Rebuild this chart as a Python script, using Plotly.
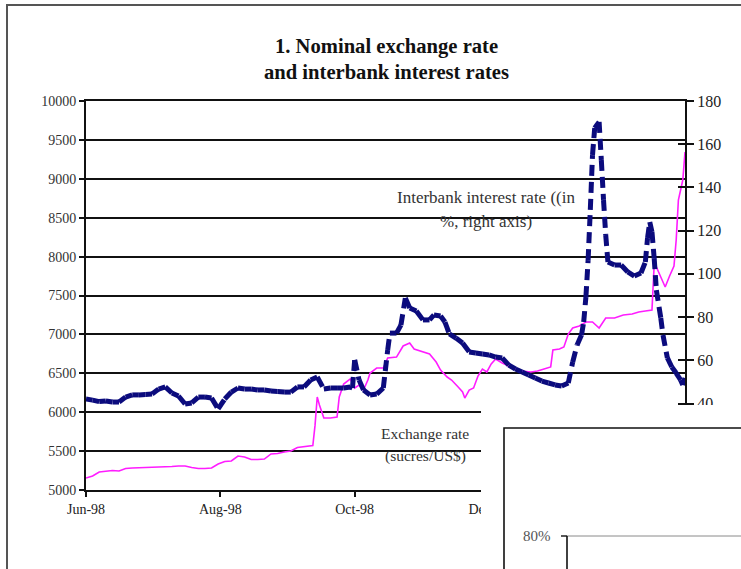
import plotly.graph_objects as go
import pandas as pd

# ---------------- data ----------------
title_lines = ["1. Nominal exchange rate", "and interbank interest rates"]
x_tick_dates = ["1998-06-01", "1998-08-01", "1998-10-01", "1998-12-01", "1999-02-01"]
x_tick_text = ["Jun-98", "Aug-98", "Oct-98", "Dec-98", "Feb-99"]
start_date = "1998-06-01"
end_date = "1999-02-28"

# Interbank interest rate (%, right axis); days counted from 1 June 1998
ib_day = [0, 3, 6, 9, 12, 15, 18, 21, 24, 27, 30, 33, 36, 39, 42, 45, 48, 51, 54, 57,
          60, 63, 66, 69, 72, 75, 78, 81, 84, 87, 90, 93, 96, 99, 102, 105, 108, 111,
          114, 117, 120, 121, 122, 124, 126, 129, 132, 135, 137, 138, 141, 143, 145,
          147, 150, 153, 156, 158, 161, 163, 165, 168, 171, 174, 177, 180, 183, 186,
          189, 192, 195, 198, 201, 204, 207, 210, 213, 216, 219, 221, 223, 225, 226,
          227, 228, 229, 230, 231, 233, 234, 235, 236, 237, 240, 243, 246, 249, 252,
          254, 255, 256, 257, 258, 259, 261, 262, 264, 266, 268, 270, 271, 272]
ib_rate = [42.1, 41.6, 40.9, 41.2, 40.7, 40.7, 43.0, 44.0, 44.0, 44.2, 44.4, 46.7, 47.7,
           44.9, 43.5, 39.8, 40.3, 43.0, 43.0, 42.6, 37.5, 42.1, 45.3, 47.2, 46.7, 46.7,
           46.3, 46.3, 45.8, 45.6, 45.3, 45.3, 47.7, 47.7, 50.9, 52.3, 46.7, 47.2, 47.2,
           47.2, 47.7, 47.2, 60.2, 50.9, 46.3, 44.0, 44.4, 47.2, 64.8, 72.6, 72.6, 76.3,
           88.8, 84.2, 82.8, 78.7, 78.7, 81.0, 80.5, 77.7, 72.2, 70.3, 68.0, 63.9, 63.4,
           62.9, 62.5, 61.5, 61.1, 57.8, 56.0, 54.6, 53.2, 51.8, 50.4, 49.5, 48.6, 48.1,
           49.5, 59.2, 67.1, 71.7, 77.7, 89.3, 106.4, 129.6, 155.0, 167.5, 170.3, 152.7,
           134.2, 118.0, 105.5, 104.1, 104.1, 100.9, 99.0, 100.4, 105.5, 116.6, 124.0,
           119.4, 107.3, 92.5, 79.6, 71.7, 61.1, 56.9, 54.1, 50.9, 48.6, 51.8]

# Exchange rate (sucres per US$, left axis)
fx_day = [0, 3, 6, 9, 12, 15, 18, 21, 24, 27, 30, 33, 36, 39, 42, 45, 48, 51, 54, 57,
          60, 63, 66, 69, 72, 75, 78, 81, 84, 87, 90, 93, 96, 99, 102, 103, 104, 105,
          106, 108, 111, 114, 115, 117, 120, 122, 124, 126, 128, 129, 132, 135, 137,
          141, 144, 147, 149, 152, 156, 159, 161, 164, 166, 169, 171, 172, 174, 176,
          178, 180, 182, 184, 186, 189, 191, 193, 198, 202, 205, 208, 211, 212, 215,
          217, 219, 221, 224, 227, 230, 233, 236, 240, 244, 248, 251, 254, 257, 258,
          259, 261, 263, 265, 267, 268, 269, 270, 271, 272]
fx_rate = [5154, 5180, 5231, 5244, 5251, 5244, 5276, 5283, 5289, 5289, 5292, 5296, 5296,
           5302, 5308, 5308, 5289, 5276, 5276, 5283, 5334, 5366, 5373, 5437, 5424, 5392,
           5392, 5398, 5463, 5469, 5488, 5501, 5546, 5553, 5559, 5570, 5830, 6195, 6093,
           5925, 5925, 5938, 6195, 6362, 6427, 6311, 6350, 6285, 6414, 6504, 6568, 6568,
           6697, 6709, 6851, 6889, 6812, 6787, 6748, 6645, 6542, 6452, 6414, 6324, 6260,
           6182, 6285, 6311, 6465, 6555, 6517, 6620, 6684, 6632, 6607, 6568, 6530, 6517,
           6530, 6555, 6581, 6799, 6812, 6838, 7005, 7082, 7108, 7159, 7159, 7082, 7211,
           7211, 7249, 7262, 7288, 7301, 7314, 7892, 7866, 7738, 7609, 7751, 7879, 8213,
           8727, 8856, 8984, 9344]

ib_label = ["Interbank interest rate ((in", "%, right axis)"]
fx_label = ["Exchange rate", "(sucres/US$)"]
inset_label = "80%"

# ---------------- build ----------------
start = pd.Timestamp(start_date)
ib_dates = [start + pd.Timedelta(days=d) for d in ib_day]
fx_dates = [start + pd.Timedelta(days=d) for d in fx_day]

# each daily segment as its own sub-path so the dash pattern restarts (Excel look)
seg_x, seg_y = [], []
for i in range(len(ib_dates) - 1):
    seg_x += [ib_dates[i], ib_dates[i + 1], None]
    seg_y += [ib_rate[i], ib_rate[i + 1], None]

W, H = 741, 569
L, R, T, B = 86, 685, 101, 490


def px(x):
    return (x - L) / (R - L)


def py(y):
    return (B - y) / (B - T)


SERIF = "Liberation Serif"
NAVY = "#0b0b7d"
MAGENTA = "#ff1cff"

fig = go.Figure()
fig.add_trace(go.Scatter(x=seg_x, y=seg_y, yaxis="y2", mode="lines",
                         line=dict(color=NAVY, width=5, dash="11px,6px"),
                         connectgaps=False, hoverinfo="skip", showlegend=False))
fig.add_trace(go.Scatter(x=fx_dates, y=fx_rate, yaxis="y", mode="lines",
                         line=dict(color=MAGENTA, width=1.6),
                         hoverinfo="skip", showlegend=False))
# anchor trace so the crossing tick axis is rendered
fig.add_trace(go.Scatter(x=[ib_dates[0]], y=[ib_rate[0]], yaxis="y3", mode="markers",
                         marker=dict(opacity=0), hoverinfo="skip", showlegend=False))

shapes = []
# outer page frame
shapes.append(dict(type="rect", xref="paper", yref="paper",
                   x0=px(7), x1=px(820), y0=py(700), y1=py(5),
                   line=dict(color="#555555", width=2), fillcolor="rgba(0,0,0,0)",
                   layer="below"))
# overlapping second chart (white cover and its frame)
shapes.append(dict(type="rect", xref="paper", yref="paper",
                   x0=px(481), x1=px(820), y0=py(700), y1=py(405),
                   line=dict(width=0), fillcolor="white", layer="above"))
shapes.append(dict(type="rect", xref="paper", yref="paper",
                   x0=px(504), x1=px(820), y0=py(700), y1=py(428),
                   line=dict(color="#111111", width=1.6), fillcolor="white", layer="above"))
shapes.append(dict(type="line", xref="paper", yref="paper",
                   x0=px(567), x1=px(820), y0=py(536), y1=py(536),
                   line=dict(color="#8a8a8a", width=1), layer="above"))
shapes.append(dict(type="line", xref="paper", yref="paper",
                   x0=px(561), x1=px(567), y0=py(536), y1=py(536),
                   line=dict(color="#111111", width=1.4), layer="above"))
shapes.append(dict(type="line", xref="paper", yref="paper",
                   x0=px(567), x1=px(567), y0=py(536), y1=py(700),
                   line=dict(color="#111111", width=1.6), layer="above"))

ann = []
for txt, yy in zip(title_lines, [47, 72]):
    ann.append(dict(text="<b>" + txt + "</b>", xref="paper", yref="paper",
                    x=px(386), y=py(yy), xanchor="center", yanchor="middle",
                    showarrow=False, font=dict(family=SERIF, size=20.6, color="#111111")))
for txt, yy in zip(ib_label, [197, 221]):
    ann.append(dict(text=txt, xref="paper", yref="paper", x=px(486), y=py(yy),
                    xanchor="center", yanchor="middle", showarrow=False,
                    font=dict(family=SERIF, size=17, color="#333333")))
for txt, yy in zip(fx_label, [433, 456]):
    ann.append(dict(text=txt, xref="paper", yref="paper", x=px(425), y=py(yy),
                    xanchor="center", yanchor="middle", showarrow=False,
                    font=dict(family=SERIF, size=15.5, color="#333333")))
ann.append(dict(text=inset_label, xref="paper", yref="paper", x=px(553), y=py(536),
                xanchor="right", yanchor="middle", showarrow=False,
                font=dict(family=SERIF, size=15, color="#555555")))

fig.update_layout(
    width=W, height=H,
    margin=dict(l=L, r=W - R, t=T, b=H - B, autoexpand=False),
    paper_bgcolor="white", plot_bgcolor="white",
    showlegend=False,
    shapes=shapes, annotations=ann,
    xaxis=dict(type="date", range=[start_date, end_date],
               tickvals=x_tick_dates, ticktext=x_tick_text,
               ticks="outside", ticklen=5, tickwidth=1.5, tickcolor="#111111",
               showline=True, linecolor="#111111", linewidth=2, mirror=True,
               showgrid=False, zeroline=False,
               tickfont=dict(family=SERIF, size=14, color="#222222")),
    yaxis=dict(range=[5000, 10000], dtick=500, tickformat="d",
               ticks="outside", ticklen=5, tickwidth=1.5, tickcolor="#111111",
               showline=True, linecolor="#111111", linewidth=2,
               showgrid=True, gridcolor="#111111", gridwidth=1.5, zeroline=False,
               tickfont=dict(family=SERIF, size=14, color="#333333")),
    yaxis2=dict(range=[0, 180], dtick=20, overlaying="y", side="right", anchor="x",
                ticks="outside", ticklen=7, tickwidth=1.5, tickcolor="#111111",
                showline=True, linecolor="#111111", linewidth=2,
                showgrid=False, zeroline=False,
                tickfont=dict(family=SERIF, size=16, color="#222222")),
    yaxis3=dict(range=[0, 180], dtick=20, overlaying="y", side="right", anchor="x",
                ticks="inside", ticklen=7, tickwidth=1.5, tickcolor="#111111",
                showline=False, showgrid=False, zeroline=False, showticklabels=False),
)

fig.write_html("out.html")
